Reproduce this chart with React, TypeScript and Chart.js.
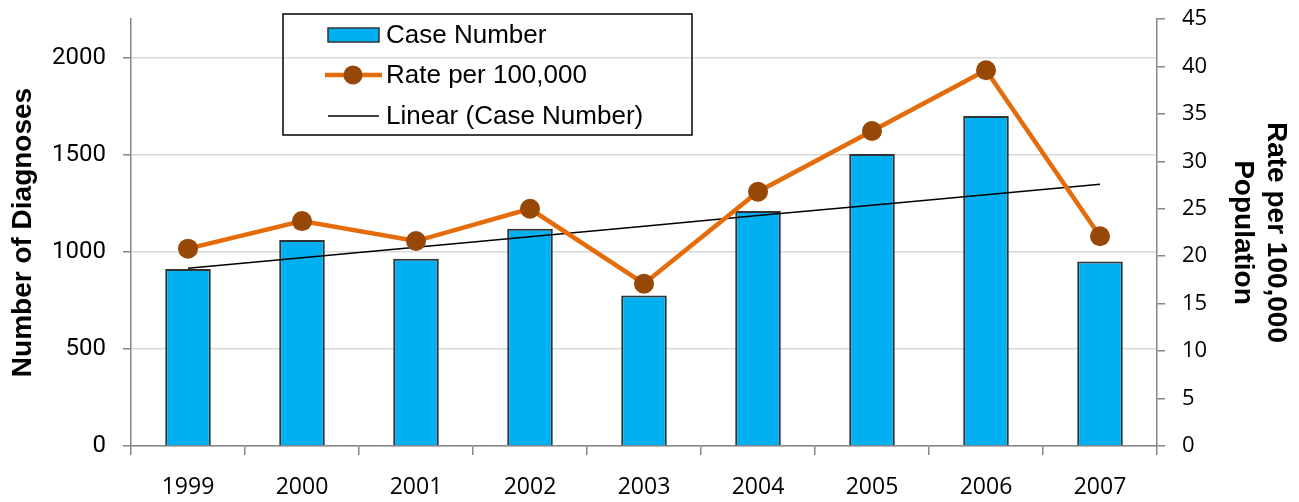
import React, { useEffect, useRef } from "react";
import { Chart, registerables } from "chart.js";

Chart.register(...registerables);

const years = ["1999", "2000", "2001", "2002", "2003", "2004", "2005", "2006", "2007"];
const caseNumbers = [912, 1062, 965, 1119, 775, 1211, 1505, 1700, 950];
const ratePer100k = [20.8, 23.7, 21.6, 25.0, 17.1, 26.8, 33.2, 39.6, 22.1];
const linearTrend = [916, 970, 1024, 1078, 1132, 1187, 1241, 1295, 1349];
const leftTicks = [0, 500, 1000, 1500, 2000];
const rightTicks = [0, 5, 10, 15, 20, 25, 30, 35, 40, 45];
const legendLabels = ["Case Number", "Rate per 100,000", "Linear (Case Number)"];
const leftTitle = "Number of Diagnoses";
const rightTitle = ["Rate per 100,000", "Population"];

const BAR_COLOR = "#00B0F0";
const BAR_BORDER = "#333333";
const LINE_COLOR = "#E46C0A";
const POINT_COLOR = "#974706";
const AXIS_COLOR = "#868686";
const GRID_COLOR = "#D9D9D9";

const legendPlugin = {
  id: "boxLegend",
  afterDraw(chart: any) {
    const ctx = chart.ctx as CanvasRenderingContext2D;
    ctx.save();
    ctx.strokeStyle = "#000";
    ctx.lineWidth = 1.5;
    ctx.strokeRect(283, 14, 409, 121);
    ctx.fillStyle = BAR_COLOR;
    ctx.fillRect(328, 28, 51, 14);
    ctx.strokeStyle = BAR_BORDER;
    ctx.lineWidth = 1.5;
    ctx.strokeRect(328, 28, 51, 14);
    ctx.strokeStyle = LINE_COLOR;
    ctx.lineWidth = 4.5;
    ctx.beginPath();
    ctx.moveTo(325, 75);
    ctx.lineTo(382, 75);
    ctx.stroke();
    ctx.fillStyle = POINT_COLOR;
    ctx.beginPath();
    ctx.arc(353, 75, 9.5, 0, Math.PI * 2);
    ctx.fill();
    ctx.strokeStyle = "#000";
    ctx.lineWidth = 1.5;
    ctx.beginPath();
    ctx.moveTo(328, 116);
    ctx.lineTo(379, 116);
    ctx.stroke();
    ctx.fillStyle = "#000";
    ctx.font = '26px "Liberation Sans", Arial, sans-serif';
    ctx.textBaseline = "middle";
    ctx.textAlign = "left";
    ctx.fillText(legendLabels[0], 386, 36);
    ctx.fillText(legendLabels[1], 386, 76);
    ctx.fillText(legendLabels[2], 386, 117);
    ctx.restore();
  },
};

export default function App() {
  const ref = useRef<HTMLCanvasElement | null>(null);

  useEffect(() => {
    const canvas = ref.current;
    if (!canvas) return;
    const chart = new Chart(canvas, {
      type: "bar",
      data: {
        labels: years,
        datasets: [
          {
            type: "bar",
            label: legendLabels[0],
            data: caseNumbers,
            yAxisID: "y",
            backgroundColor: BAR_COLOR,
            borderColor: BAR_BORDER,
            borderWidth: 2,
            barPercentage: 0.4,
            categoryPercentage: 1,
            order: 3,
          },
          {
            type: "line",
            label: legendLabels[2],
            data: linearTrend,
            yAxisID: "y",
            borderColor: "#000",
            borderWidth: 1.5,
            pointRadius: 0,
            tension: 0,
            fill: false,
            order: 2,
          },
          {
            type: "line",
            label: legendLabels[1],
            data: ratePer100k,
            yAxisID: "y1",
            borderColor: LINE_COLOR,
            borderWidth: 4.5,
            pointRadius: 10,
            pointBackgroundColor: POINT_COLOR,
            pointBorderColor: POINT_COLOR,
            pointBorderWidth: 0,
            tension: 0,
            fill: false,
            order: 1,
          },
        ] as any,
      },
      options: {
        animation: false,
        responsive: false,
        devicePixelRatio: 1,
        layout: { padding: { top: 19, left: 0, right: 0, bottom: 0 } },
        plugins: { legend: { display: false }, tooltip: { enabled: false } },
        scales: {
          x: {
            type: "category",
            offset: true,
            grid: {
              offset: true,
              drawOnChartArea: false,
              drawTicks: true,
              tickLength: 9,
              color: AXIS_COLOR,
              lineWidth: 1.5,
            },
            border: { color: AXIS_COLOR, width: 1.5 },
            ticks: {
              color: "#000",
              font: { family: '"Open Sans", sans-serif', size: 23 },
              padding: 19,
              autoSkip: false,
              maxRotation: 0,
            },
            afterFit: (s: any) => {
              s.height = 56;
              s.paddingLeft = 0;
              s.paddingRight = 0;
            },
          },
          y: {
            type: "linear",
            position: "left",
            min: 0,
            max: 2200,
            afterBuildTicks: (s: any) => {
              s.ticks = leftTicks.map((v) => ({ value: v }));
            },
            grid: {
              color: GRID_COLOR,
              lineWidth: 1.5,
              tickColor: AXIS_COLOR,
              tickLength: 8,
              drawTicks: true,
            },
            border: { color: AXIS_COLOR, width: 1.5 },
            ticks: {
              color: "#000",
              font: { family: 'Roboto, sans-serif', size: 24 },
              padding: 17,
              callback: (v: any) => String(v),
            },
            title: {
              display: true,
              text: leftTitle,
              color: "#000",
              font: { family: '"Liberation Sans", Arial, sans-serif', size: 28, weight: "bold" },
              padding: { top: 6, bottom: 0 },
            },
            afterFit: (s: any) => {
              s.width = 131;
              s.paddingTop = 0;
              s.paddingBottom = 0;
            },
          },
          y1: {
            type: "linear",
            position: "right",
            min: 0,
            max: 45,
            afterBuildTicks: (s: any) => {
              s.ticks = rightTicks.map((v) => ({ value: v }));
            },
            grid: {
              drawOnChartArea: false,
              tickColor: AXIS_COLOR,
              tickLength: 8,
              lineWidth: 1.5,
              drawTicks: true,
            },
            border: { color: AXIS_COLOR, width: 1.5 },
            ticks: {
              color: "#000",
              font: { family: '"Open Sans", sans-serif', size: 22 },
              padding: 17,
              callback: (v: any) => String(v),
            },
            title: {
              display: true,
              text: rightTitle,
              color: "#000",
              font: { family: '"Liberation Sans", Arial, sans-serif', size: 28, weight: "bold" },
              padding: { top: 6, bottom: 0 },
            },
            afterFit: (s: any) => {
              s.width = 142;
              s.paddingTop = 0;
              s.paddingBottom = 0;
            },
          },
        },
      } as any,
      plugins: [legendPlugin],
    });

    const fontsToLoad = [
      '22px "Open Sans"',
      '24px Roboto',
      '26px "Liberation Sans"',
      'bold 28px "Liberation Sans"',
    ];
    if ((document as any).fonts && (document as any).fonts.load) {
      Promise.all(fontsToLoad.map((f) => (document as any).fonts.load(f).catch(() => null)))
        .then(() => {
          try {
            chart.update();
          } catch (e) {}
        });
    }

    return () => {
      chart.destroy();
    };
  }, []);

  return (
    <canvas
      ref={ref}
      width={1299}
      height={502}
      style={{ position: "absolute", left: 0, top: 0, width: 1299, height: 502, display: "block" }}
    />
  );
}
